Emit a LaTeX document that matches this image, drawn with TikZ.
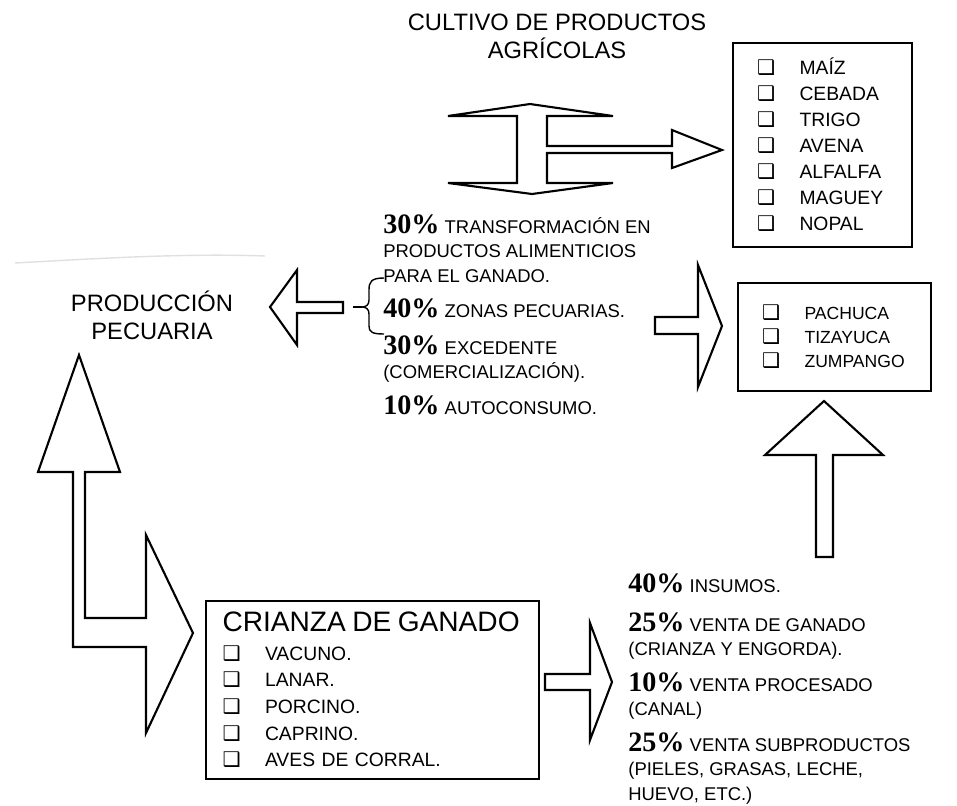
\documentclass[tikz,border=0pt]{standalone}
\usepackage{fontspec}
\setmainfont{Liberation Sans}
\newfontfamily\pctfont{Liberation Serif}
\newfontfamily\symfont{DejaVu Sans}
\tikzstyle{listbox} = [rectangle, draw=black, line width=1.1pt, align=left, inner ysep=0pt]
\tikzstyle{bigarrow} = [draw=black, line width=1.2pt, line join=miter]
\tikzstyle{heading} = [align=center, inner sep=0pt, anchor=south, font=\fontsize{13.5}{15.9}\selectfont]
\tikzstyle{share} = [align=left, inner sep=0pt, anchor=north west, font=\fontsize{10.5}{13.9}\selectfont]
\newcommand{\chk}{\makebox[0.85cm][l]{\symfont\fontsize{11.5}{11.5}\selectfont ❑}}
\newcommand{\pct}[1]{{\pctfont\bfseries\fontsize{16}{16}\selectfont #1}}

\begin{document}
\begin{tikzpicture}[x=0.02cm, y=-0.02cm]
\useasboundingbox (0,0) rectangle (957,805);

\node (cultivo) [heading] at (557,59) {CULTIVO DE PRODUCTOS\\AGRÍCOLAS};

\node (granos) [listbox, minimum width=3.58cm, minimum height=4.08cm, text width=2.62cm, inner xsep=0.48cm, font=\fontsize{11}{14.8}\selectfont] at (822.5,145) {\chk MAÍZ\\\chk CEBADA\\\chk TRIGO\\\chk AVENA\\\chk ALFALFA\\\chk MAGUEY\\\chk NOPAL};

\node (ciudades) [listbox, minimum width=3.86cm, minimum height=2.16cm, text width=2.9cm, inner xsep=0.48cm, font=\fontsize{10}{13.6}\selectfont] at (834.5,337) {\chk PACHUCA\\\chk TIZAYUCA\\\chk ZUMPANGO};

\node (pecuaria) [heading] at (152,340) {PRODUCCIÓN\\PECUARIA};

\node (crianza) [listbox, minimum width=6.66cm, minimum height=3.56cm, text width=6cm, inner xsep=0.33cm, font=\fontsize{11}{15.2}\selectfont] at (372.5,690) {{\fontsize{16}{16}\selectfont CRIANZA DE GANADO}\\[1pt]\chk VACUNO.\\\chk LANAR.\\\chk PORCINO.\\\chk CAPRINO.\\\chk AVES DE CORRAL.};

% reparto de la cosecha
\node (transf) [share] at (383,214.5) {\pct{30\%} TRANSFORMACIÓN EN\\PRODUCTOS ALIMENTICIOS\\PARA EL GANADO.};
\node (zonas) [share] at (383,298.5) {\pct{40\%} ZONAS PECUARIAS.};
\node (excedente) [share] at (383,335.5) {\pct{30\%} EXCEDENTE\\(COMERCIALIZACIÓN).};
\node (autoconsumo) [share] at (383,395.5) {\pct{10\%} AUTOCONSUMO.};

% reparto del ganado
\node (insumos) [share] at (628,573.5) {\pct{40\%} INSUMOS.};
\node (ventaganado) [share] at (628,612.5) {\pct{25\%} VENTA DE GANADO\\(CRIANZA Y ENGORDA).};
\node (ventaproc) [share] at (628,672.5) {\pct{10\%} VENTA PROCESADO\\(CANAL)};
\node (subprod) [share] at (628,732.5) {\pct{25\%} VENTA SUBPRODUCTOS\\(PIELES, GRASAS, LECHE,\\HUEVO, ETC.)};

% flechas huecas
\draw [bigarrow] (530,104) -- (613,116) -- (547,116) -- (547,146) -- (672,146) -- (672,130) -- (722,150) -- (672,168) -- (672,153) -- (547,153) -- (547,183) -- (613,183) -- (532,194) -- (448,183) -- (517,183) -- (517,116) -- (448,116) -- cycle;
\draw [bigarrow] (270,307) -- (297,270) -- (297,302) -- (343,302) -- (343,313) -- (297,313) -- (297,345) -- cycle;
\draw [bigarrow] (655,317) -- (698,317) -- (698,265) -- (722,326) -- (698,387) -- (698,334) -- (655,334) -- cycle;
\draw [bigarrow] (824,401) -- (883,455) -- (833,455) -- (833,557) -- (816,557) -- (816,455) -- (765,455) -- cycle;
\draw [bigarrow] (79,355) -- (120,472) -- (85,472) -- (85,618) -- (146,618) -- (146,535) -- (193,633) -- (146,733) -- (146,647) -- (73,647) -- (73,472) -- (38,472) -- cycle;
\draw [bigarrow] (545,674) -- (590,674) -- (590,623) -- (612,682) -- (590,740) -- (590,690) -- (545,690) -- cycle;

% llave
\draw [line width=0.8pt] (353,307) -- (362,307);
\draw [line width=0.8pt] (384,278) .. controls (371,278) and (369,282) .. (369,290) -- (369,300) .. controls (369,305) and (366,307) .. (362,307) .. controls (366,307) and (369,309) .. (369,314) -- (369,326) .. controls (369,332) and (372,334) .. (384,334);

\draw [black!12, line width=0.8pt] (15,263) .. controls (90,259) and (180,253) .. (265,256);

\end{tikzpicture}
\end{document}
